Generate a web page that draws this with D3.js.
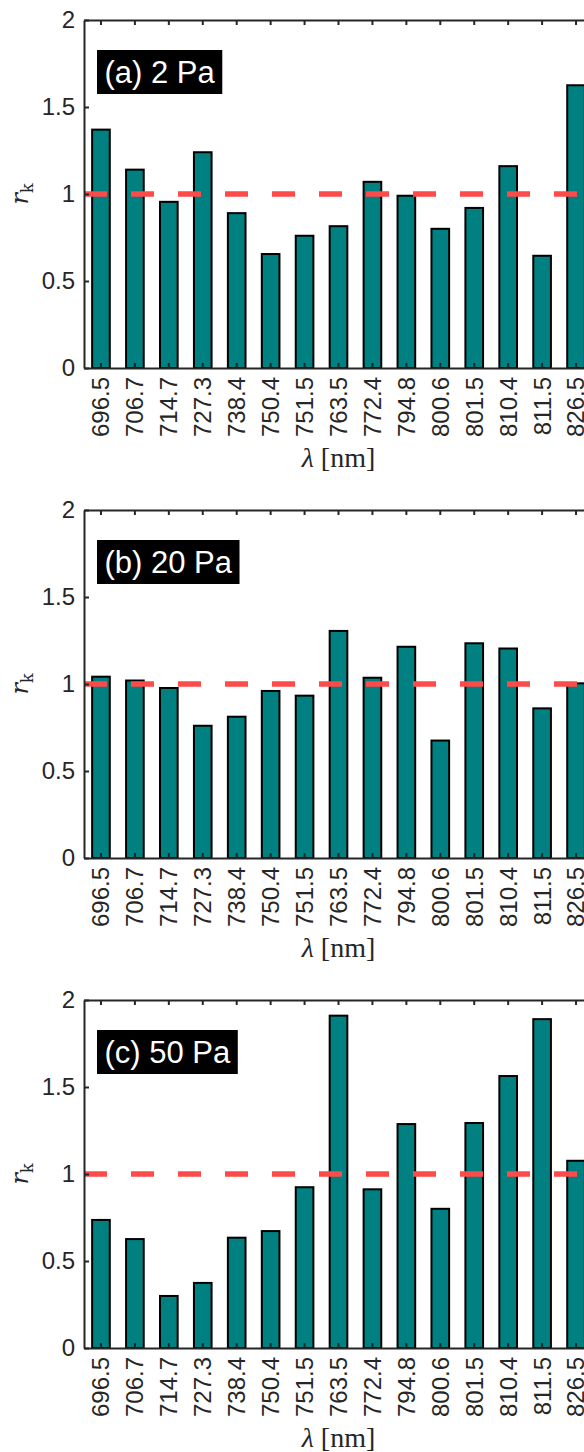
<!DOCTYPE html>
<html>
<head>
<meta charset="utf-8">
<script src="https://cdn.jsdelivr.net/npm/d3@7"></script>
<style>
  html, body { margin: 0; padding: 0; background: #fff; }
  svg { display: block; }
</style>
</head>
<body>
<script>
const categories = ["696.5","706.7","714.7","727.3","738.4","750.4","751.5","763.5","772.4","794.8","800.6","801.5","810.4","811.5","826.5"];
const valuesA = [1.37, 1.14, 0.955, 1.24, 0.89, 0.655, 0.76, 0.815, 1.07, 0.99, 0.80, 0.92, 1.16, 0.645, 1.625];
const valuesB = [1.042, 1.02, 0.977, 0.76, 0.812, 0.96, 0.933, 1.305, 1.036, 1.214, 0.675, 1.234, 1.204, 0.86, 1.004];
const valuesC = [0.736, 0.626, 0.299, 0.374, 0.634, 0.672, 0.924, 1.91, 0.912, 1.287, 0.80, 1.293, 1.563, 1.89, 1.076];
const panelLabels = ["(a) 2 Pa", "(b) 20 Pa", "(c) 50 Pa"];
const yTicks = [0, 0.5, 1, 1.5, 2];
const refValue = 1;

const W = 584, H = 1452;
const svg = d3.select("body").append("svg").attr("width", W).attr("height", H);

const left = 84, plotW = 509, plotH = 348;
const tops = [20, 510, 1000];
const axisColor = "#262626";
const series = [valuesA, valuesB, valuesC];

series.forEach((vals, pi) => {
  const top = tops[pi];
  const g = svg.append("g").attr("transform", `translate(${left},${top})`);
  const x = d3.scaleBand().domain(categories).range([0, plotW]).paddingInner(0.48).paddingOuter(0.24);
  const y = d3.scaleLinear().domain([0, 2]).range([plotH, 0]);

  // bars
  g.selectAll("rect.bar").data(vals).join("rect")
    .attr("class", "bar")
    .attr("x", (d, i) => x(categories[i]))
    .attr("y", d => y(d))
    .attr("width", x.bandwidth())
    .attr("height", d => y(0) - y(d))
    .attr("fill", "#008080")
    .attr("stroke", "#000")
    .attr("stroke-width", 2);

  // reference dashed line
  g.append("line")
    .attr("x1", 0).attr("x2", plotW)
    .attr("y1", y(refValue)).attr("y2", y(refValue))
    .attr("stroke", "#ff4a4a")
    .attr("stroke-width", 5.5)
    .attr("stroke-dasharray", "23,24");

  const styleAxis = sel => {
    sel.select(".domain").attr("stroke", axisColor).attr("stroke-width", 2);
    sel.selectAll(".tick line").attr("stroke", axisColor).attr("stroke-width", 2);
    sel.selectAll(".tick text").attr("fill", axisColor)
      .style("font-family", "'Liberation Sans', Arial, Helvetica, sans-serif")
      .style("font-size", "24px");
  };

  // bottom axis
  const xb = g.append("g").attr("transform", `translate(0,${plotH})`)
    .call(d3.axisBottom(x).tickSizeInner(-5).tickSizeOuter(0));
  styleAxis(xb);
  xb.selectAll(".tick text")
    .attr("transform", "rotate(-90)")
    .attr("x", -9).attr("y", 0).attr("dy", "0.35em")
    .attr("text-anchor", "end");

  // top axis
  const xt = g.append("g")
    .call(d3.axisTop(x).tickSizeInner(-5).tickSizeOuter(0).tickFormat(""));
  styleAxis(xt);

  // left axis
  const yl = g.append("g")
    .call(d3.axisLeft(y).tickValues(yTicks).tickSizeInner(-5).tickSizeOuter(0).tickPadding(9).tickFormat(d3.format("")));
  styleAxis(yl);

  // right axis
  const yr = g.append("g").attr("transform", `translate(${plotW},0)`)
    .call(d3.axisRight(y).tickValues(yTicks).tickSizeInner(-5).tickSizeOuter(0).tickFormat(""));
  styleAxis(yr);

  // panel label
  const lab = g.append("g");
  const txt = lab.append("text")
    .attr("x", 13 + 7.5).attr("y", 30 + 33)
    .attr("fill", "#fff")
    .style("font-family", "'Liberation Sans', Arial, Helvetica, sans-serif")
    .style("font-size", "31px")
    .text(panelLabels[pi]);
  const tw = txt.node().getComputedTextLength();
  lab.insert("rect", "text")
    .attr("x", 13).attr("y", 30)
    .attr("width", tw + 15).attr("height", 44)
    .attr("fill", "#000");

  // y label r_k
  const yt = g.append("text")
    .attr("transform", `translate(${28 - left},${plotH / 2}) rotate(-90)`)
    .attr("text-anchor", "middle")
    .attr("fill", axisColor)
    .style("font-family", "'DejaVu Serif', 'Liberation Serif', serif")
    .style("font-size", "24px");
  yt.append("tspan").style("font-style", "italic").text("r");
  yt.append("tspan").attr("dy", "0.3em").style("font-size", "16px").text("k");

  // x label
  const xl = g.append("text")
    .attr("x", plotW / 2).attr("y", plotH + 99)
    .attr("text-anchor", "middle")
    .attr("fill", axisColor)
    .style("font-family", "'Liberation Serif', 'DejaVu Serif', serif")
    .style("font-size", "28px");
  xl.append("tspan").style("font-style", "italic").text("λ");
  xl.append("tspan").text(" [nm]");
});
</script>
</body>
</html>
